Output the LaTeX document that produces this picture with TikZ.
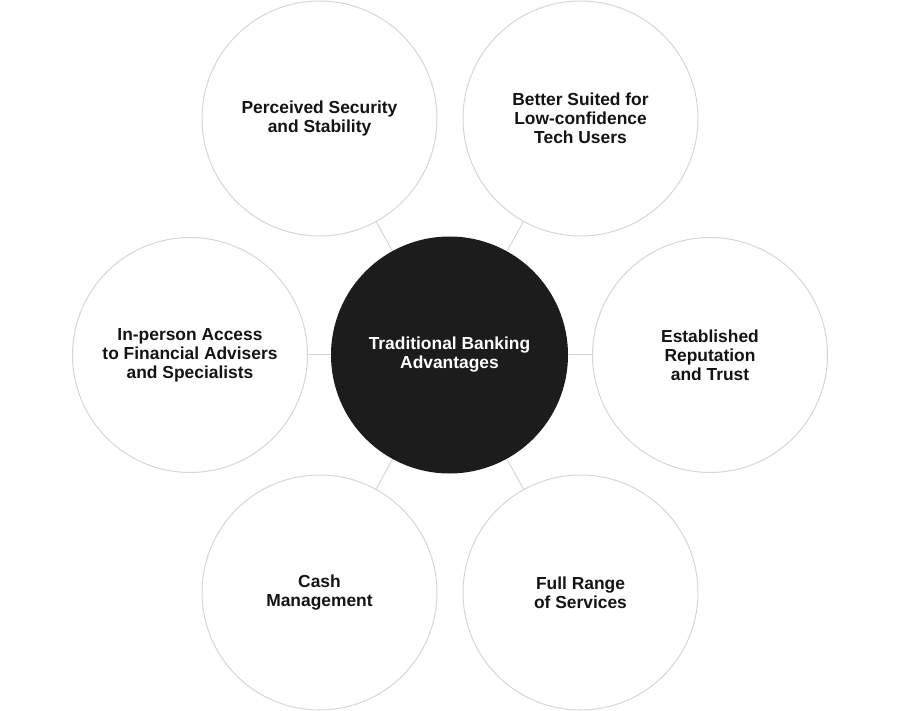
\documentclass[tikz,border=0pt]{standalone}
\usepackage{fontspec}
\setmainfont{Liberation Sans}
\usepackage{xcolor}
\usetikzlibrary{positioning}
\definecolor{RingGray}{RGB}{214,214,214}
\definecolor{CoreBlack}{RGB}{28,28,28}
\definecolor{TextDark}{RGB}{20,20,20}

\tikzset{
  ring/.style={circle, draw=RingGray, line width=1pt, fill=white,
    minimum size=235pt, inner sep=0pt, align=center, text=TextDark,
    font=\fontsize{17.4}{19}\selectfont\bfseries},
  core/.style={circle, fill=CoreBlack, minimum size=237pt, inner sep=0pt,
    align=center, text=white, font=\fontsize{17.4}{19}\selectfont\bfseries},
  link/.style={draw=RingGray, line width=1pt}
}

\begin{document}
\begin{tikzpicture}[x=1pt,y=-1pt]
  \useasboundingbox (0,0) rectangle (900,711);
  % hub
  \node[core] (hub) at (449.5,355) {Traditional Banking\\Advantages};
  % outer ring
  \node[ring] (security) at (319.5,118.5) {Perceived Security\\and Stability};
  \node[ring] (lowtech) at (580.5,118.5) {Better Suited for\\Low-confidence\\Tech Users};
  \node[ring] (advisers) at (190,355) {In-person Access\\to Financial Advisers\\and Specialists};
  \node[ring] (trust) at (710,355) {Established\\Reputation\\and Trust};
  \node[ring] (cash) at (319.5,592.5) {Cash\\Management};
  \node[ring] (services) at (580.5,592.5) {Full Range\\of Services};
  % spokes
  \foreach \n in {security,lowtech,advisers,trust,cash,services}
    \draw[link] (hub) -- (\n);
\end{tikzpicture}
\end{document}
